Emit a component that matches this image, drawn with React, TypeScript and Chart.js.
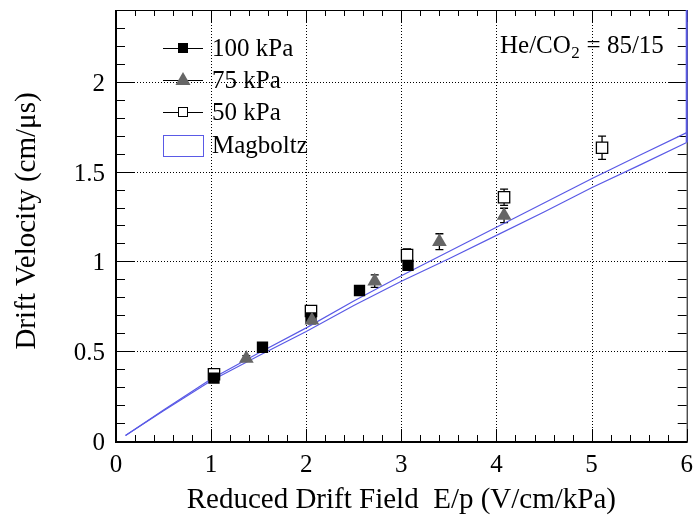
import React, { useEffect, useRef } from "react";
import { Chart, registerables } from "chart.js";
Chart.register(...registerables);

// ---- data ----
const xMajorTicks = [0, 1, 2, 3, 4, 5, 6];
const yMajorTicks = [0, 0.5, 1, 1.5, 2];
const yTickLabels = ["0", "0.5", "1", "1.5", "2"];
const xTickLabels = ["0", "1", "2", "3", "4", "5", "6"];

const x100 = [1.03, 1.54, 2.05, 2.56, 3.07];
const y100 = [0.35, 0.522, 0.685, 0.838, 0.978];
const e100 = [0.012, 0.012, 0.015, 0.02, 0.025];

const x75 = [1.37, 2.06, 2.72, 3.4, 4.08];
const y75 = [0.46, 0.672, 0.89, 1.11, 1.256];
const e75 = [0.015, 0.02, 0.035, 0.044, 0.04];

const x50 = [1.03, 2.05, 3.06, 4.08, 5.11];
const y50 = [0.372, 0.724, 1.035, 1.357, 1.633];
const e50 = [0.02, 0.025, 0.035, 0.045, 0.065];

const xMag = [0.1, 0.5, 1, 1.5, 2, 2.5, 3, 3.5, 4, 4.5, 5, 5.5, 6];
const yMagA = [0.03, 0.172, 0.345, 0.49, 0.63, 0.78, 0.92, 1.055, 1.19, 1.325, 1.46, 1.59, 1.717];
const yMagB = [0.03, 0.168, 0.335, 0.475, 0.61, 0.755, 0.89, 1.015, 1.145, 1.275, 1.41, 1.535, 1.662];
const xEdge = [6, 6];
const yEdge = [1.662, 2.4];

const X_MIN = 0, X_MAX = 6, Y_MIN = 0, Y_MAX = 2.4;
const FONT = '"Liberation Serif", "DejaVu Serif", serif';
const BLUE = "#5a5ae6";
const GRAY = "#666666";

const pts = (xs: number[], ys: number[]) => xs.map((x, i) => ({ x, y: ys[i] }));

const axesPlugin = {
  id: "rootAxes",
  beforeDatasetsDraw(chart: any) {
    const { ctx, chartArea: a, scales } = chart;
    const xs = scales.x, ys = scales.y;
    ctx.save();
    // dotted grid
    ctx.strokeStyle = "#000";
    ctx.lineWidth = 1;
    ctx.setLineDash([1, 2]);
    for (const v of xMajorTicks) {
      if (v === X_MIN || v === X_MAX) continue;
      const px = Math.round(xs.getPixelForValue(v)) + 0.5;
      ctx.beginPath(); ctx.moveTo(px, a.top); ctx.lineTo(px, a.bottom); ctx.stroke();
    }
    for (const v of yMajorTicks) {
      if (v === Y_MIN) continue;
      const py = Math.round(ys.getPixelForValue(v)) + 0.5;
      ctx.beginPath(); ctx.moveTo(a.left, py); ctx.lineTo(a.right, py); ctx.stroke();
    }
    ctx.setLineDash([]);
    // ticks
    ctx.lineWidth = 1;
    for (let i = 0; i <= 30; i++) {
      const v = i * 0.2;
      const major = i % 5 === 0;
      const len = major ? 12 : 6;
      const px = Math.round(xs.getPixelForValue(v)) + 0.5;
      ctx.beginPath(); ctx.moveTo(px, a.bottom); ctx.lineTo(px, a.bottom - len); ctx.stroke();
      ctx.beginPath(); ctx.moveTo(px, a.top); ctx.lineTo(px, a.top + len); ctx.stroke();
    }
    for (let i = 0; i <= 23; i++) {
      const v = i * 0.1;
      const major = i % 5 === 0;
      const len = major ? 18 : 9;
      const py = Math.round(ys.getPixelForValue(v)) + 0.5;
      ctx.beginPath(); ctx.moveTo(a.left, py); ctx.lineTo(a.left + len, py); ctx.stroke();
      ctx.beginPath(); ctx.moveTo(a.right, py); ctx.lineTo(a.right - len, py); ctx.stroke();
    }
    // frame
    ctx.lineWidth = 1;
    ctx.strokeRect(a.left + 0.5, a.top + 0.5, a.right - a.left, a.bottom - a.top);
    ctx.lineWidth = 2;
    ctx.beginPath();
    ctx.moveTo(a.left, a.top); ctx.lineTo(a.left, a.bottom + 1); ctx.lineTo(a.right + 1, a.bottom + 1);
    ctx.stroke();

    // error bars
    const drawErr = (xv: number[], yv: number[], ev: number[]) => {
      ctx.strokeStyle = "#000";
      ctx.lineWidth = 1.3;
      for (let i = 0; i < xv.length; i++) {
        const px = xs.getPixelForValue(xv[i]);
        const p1 = ys.getPixelForValue(yv[i] + ev[i]);
        const p2 = ys.getPixelForValue(yv[i] - ev[i]);
        ctx.beginPath();
        ctx.moveTo(px, p1); ctx.lineTo(px, p2);
        ctx.moveTo(px - 4, p1); ctx.lineTo(px + 4, p1);
        ctx.moveTo(px - 4, p2); ctx.lineTo(px + 4, p2);
        ctx.stroke();
      }
    };
    drawErr(x50, y50, e50);
    drawErr(x100, y100, e100);
    drawErr(x75, y75, e75);
    ctx.restore();
  },
  afterDraw(chart: any) {
    const { ctx, chartArea: a, scales } = chart;
    const xs = scales.x, ys = scales.y;
    ctx.save();
    ctx.fillStyle = "#000";
    ctx.font = `25px ${FONT}`;
    ctx.textBaseline = "alphabetic";
    // y tick labels
    ctx.textAlign = "right";
    yMajorTicks.forEach((v, i) => {
      ctx.fillText(yTickLabels[i], 105, ys.getPixelForValue(v) + 9);
    });
    // x tick labels
    ctx.textAlign = "center";
    xMajorTicks.forEach((v, i) => {
      ctx.fillText(xTickLabels[i], xs.getPixelForValue(v), 472);
    });
    // axis titles
    ctx.font = `29px ${FONT}`;
    ctx.textAlign = "center";
    ctx.fillText("Reduced Drift Field  E/p (V/cm/kPa)", (a.left + a.right) / 2, 508);
    ctx.save();
    ctx.translate(35, 221);
    ctx.rotate(-Math.PI / 2);
    ctx.textAlign = "center";
    ctx.fillText("Drift Velocity (cm/\u03bcs)", 0, 0);
    ctx.restore();

    // He/CO2 label
    ctx.font = `25px ${FONT}`;
    ctx.textAlign = "left";
    let tx = 500;
    const ty = 53;
    ctx.fillText("He/CO", tx, ty);
    tx += ctx.measureText("He/CO").width;
    ctx.font = `17px ${FONT}`;
    ctx.fillText("2", tx + 0.5, ty + 5);
    tx += ctx.measureText("2").width + 1;
    ctx.font = `25px ${FONT}`;
    ctx.fillText(" = 85/15", tx, ty);

    // legend
    const lx1 = 163, lx2 = 203, lxm = 183, ltx = 212;
    const rows = [48, 80, 112, 145];
    ctx.strokeStyle = "#000";
    ctx.lineWidth = 1;
    for (let r = 0; r < 3; r++) {
      ctx.beginPath(); ctx.moveTo(lx1, rows[r] + 0.5); ctx.lineTo(lx2, rows[r] + 0.5); ctx.stroke();
    }
    // 100 kPa
    ctx.fillStyle = "#000";
    ctx.fillRect(lxm - 5, rows[0] - 5, 10, 10);
    // 75 kPa
    ctx.fillStyle = GRAY;
    ctx.beginPath();
    ctx.moveTo(lxm, rows[1] - 8); ctx.lineTo(lxm + 7.5, rows[1] + 5); ctx.lineTo(lxm - 7.5, rows[1] + 5);
    ctx.closePath(); ctx.fill();
    // 50 kPa
    ctx.fillStyle = "#fff";
    ctx.fillRect(lxm - 5, rows[2] - 5, 10, 10);
    ctx.strokeStyle = "#000";
    ctx.strokeRect(lxm - 4.5, rows[2] - 4.5, 9, 9);
    // Magboltz box
    ctx.strokeStyle = BLUE;
    ctx.lineWidth = 1;
    ctx.strokeRect(163.5, 135.5, 40, 21);
    ctx.fillStyle = "#000";
    ctx.font = `25px ${FONT}`;
    ctx.textAlign = "left";
    ctx.fillText("100 kPa", ltx, rows[0] + 8);
    ctx.fillText("75 kPa", ltx, rows[1] + 8);
    ctx.fillText("50 kPa", ltx, rows[2] + 8);
    ctx.fillText("Magboltz", ltx, rows[3] + 8);
    ctx.restore();
  },
};

export default function App() {
  const ref = useRef<HTMLCanvasElement | null>(null);
  useEffect(() => {
    document.body.style.margin = "0";
    const c = ref.current!;
    const chart = new Chart(c, {
      type: "scatter",
      data: {
        datasets: [
          {
            label: "75 kPa", data: pts(x75, y75), order: 0,
            pointStyle: "triangle", pointRadius: 8.5, backgroundColor: GRAY, borderColor: GRAY, borderWidth: 0,
          },
          {
            label: "100 kPa", data: pts(x100, y100), order: 1,
            pointStyle: "rect", pointRadius: 8, backgroundColor: "#000", borderColor: "#000", borderWidth: 0,
          },
          {
            label: "50 kPa", data: pts(x50, y50), order: 2,
            pointStyle: "rect", pointRadius: 8, backgroundColor: "#fff", borderColor: "#000", borderWidth: 1.3,
          },
          {
            label: "Magboltz", data: pts(xMag, yMagA), order: 3, showLine: true,
            pointRadius: 0, borderColor: BLUE, borderWidth: 1.2, tension: 0,
          },
          {
            label: "Magboltz B", data: pts(xMag, yMagB), order: 3, showLine: true,
            pointRadius: 0, borderColor: BLUE, borderWidth: 1.2, tension: 0,
          },
          {
            label: "edge", data: pts(xEdge, yEdge), order: 3, showLine: true, clip: 3,
            pointRadius: 0, borderColor: BLUE, borderWidth: 2, tension: 0,
          },
        ],
      },
      options: {
        responsive: false,
        animation: false,
        layout: { padding: { left: 116, right: 6, top: 10, bottom: 74 } },
        plugins: { legend: { display: false }, tooltip: { enabled: false } },
        scales: {
          x: { type: "linear", min: X_MIN, max: X_MAX, display: false },
          y: { type: "linear", min: Y_MIN, max: Y_MAX, display: false },
        },
      } as any,
      plugins: [axesPlugin],
    });
    return () => chart.destroy();
  }, []);
  return <canvas ref={ref} width={696} height={515} style={{ display: "block" }} />;
}
